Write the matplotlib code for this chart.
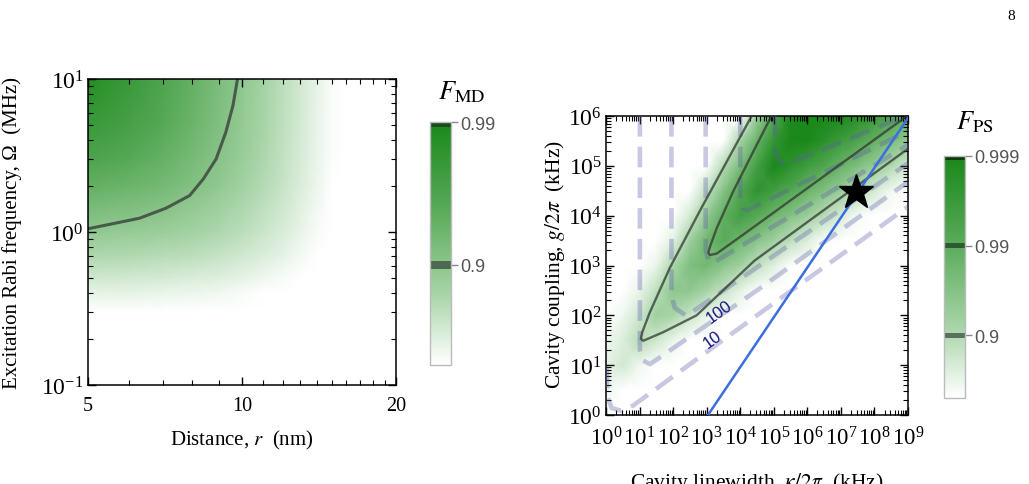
import numpy as np
import matplotlib
matplotlib.use("Agg")
import matplotlib.pyplot as plt
from matplotlib.colors import LinearSegmentedColormap, Normalize
from matplotlib.ticker import FixedLocator, FixedFormatter, LogLocator, NullFormatter

plt.rcParams['font.family'] = ['Liberation Serif', 'DejaVu Serif']
plt.rcParams['mathtext.fontset'] = 'stix'
SANS = ['Liberation Sans', 'DejaVu Sans']

# ---------------- data: left panel (F_MD), z = -log10(1 - F) ----------------
distance_nm = [5, 6, 7, 8, 9, 10, 11, 12, 13, 14, 15, 16, 20]
rabi_mhz = [0.1, 0.2, 0.3, 0.4, 0.5, 0.7, 1, 2, 3, 5, 10]
f_md_z = [
    [0.00, 0.00, 0.00, 0.00, 0.00, 0.00, 0.00, 0.00, 0.00, 0.00, 0.00, 0.00, 0.0],
    [0.05, 0.04, 0.04, 0.03, 0.02, 0.00, 0.00, 0.00, 0.00, 0.00, 0.00, 0.00, 0.0],
    [0.28, 0.27, 0.26, 0.25, 0.23, 0.21, 0.18, 0.14, 0.10, 0.06, 0.01, 0.00, 0.0],
    [0.44, 0.44, 0.42, 0.40, 0.38, 0.34, 0.30, 0.26, 0.21, 0.15, 0.09, 0.03, 0.0],
    [0.57, 0.56, 0.54, 0.51, 0.48, 0.44, 0.39, 0.34, 0.27, 0.21, 0.14, 0.07, 0.0],
    [0.76, 0.74, 0.71, 0.68, 0.63, 0.57, 0.51, 0.44, 0.36, 0.28, 0.20, 0.12, 0.0],
    [0.96, 0.93, 0.89, 0.83, 0.76, 0.69, 0.60, 0.52, 0.43, 0.34, 0.25, 0.16, 0.0],
    [1.31, 1.25, 1.17, 1.07, 0.96, 0.84, 0.73, 0.62, 0.51, 0.40, 0.30, 0.20, 0.0],
    [1.50, 1.41, 1.29, 1.16, 1.03, 0.90, 0.77, 0.65, 0.53, 0.42, 0.32, 0.22, 0.0],
    [1.70, 1.56, 1.41, 1.25, 1.09, 0.94, 0.80, 0.67, 0.55, 0.43, 0.33, 0.22, 0.0],
    [1.90, 1.70, 1.49, 1.30, 1.13, 0.97, 0.82, 0.69, 0.56, 0.44, 0.33, 0.23, 0.0],
]
md_contour_r = [5.0, 6.3, 7.1, 7.9, 8.4, 8.9, 9.3, 9.6, 9.8]
md_contour_rabi = [1.05, 1.23, 1.43, 1.73, 2.22, 3.0, 4.5, 6.7, 10.0]

# ---------------- data: right panel (F_PS), log10 of kHz values ----------------
log_kappa = [0, 0.5, 1, 1.5, 2, 2.5, 3, 3.5, 4, 4.5, 5, 5.5, 6, 6.5, 7, 7.5, 8, 8.5, 9]
log_g = [0, 0.5, 1, 1.5, 2, 2.5, 3, 3.5, 4, 4.5, 5, 5.5, 6]
f_ps_z = [
    [0.10, 0.00, 0.00, 0.00, 0.00, 0.00, 0.00, 0.00, 0.00, 0.00, 0.00, 0.00, 0.00, 0.00, 0.00, 0.00, 0.00, 0.00, 0.00],
    [0.45, 0.11, 0.00, 0.00, 0.00, 0.00, 0.00, 0.00, 0.00, 0.00, 0.00, 0.00, 0.00, 0.00, 0.00, 0.00, 0.00, 0.00, 0.00],
    [0.55, 0.72, 0.43, 0.15, 0.00, 0.00, 0.00, 0.00, 0.00, 0.00, 0.00, 0.00, 0.00, 0.00, 0.00, 0.00, 0.00, 0.00, 0.00],
    [0.45, 0.62, 0.96, 0.75, 0.47, 0.19, 0.00, 0.00, 0.00, 0.00, 0.00, 0.00, 0.00, 0.00, 0.00, 0.00, 0.00, 0.00, 0.00],
    [0.30, 0.45, 0.74, 1.21, 1.07, 0.79, 0.51, 0.22, 0.00, 0.00, 0.00, 0.00, 0.00, 0.00, 0.00, 0.00, 0.00, 0.00, 0.00],
    [0.05, 0.20, 0.50, 0.90, 1.39, 1.39, 1.11, 0.83, 0.54, 0.26, 0.00, 0.00, 0.00, 0.00, 0.00, 0.00, 0.00, 0.00, 0.00],
    [0.00, 0.00, 0.15, 0.50, 1.06, 1.58, 1.71, 1.43, 1.15, 0.86, 0.58, 0.30, 0.01, 0.00, 0.00, 0.00, 0.00, 0.00, 0.00],
    [0.00, 0.00, 0.00, 0.00, 0.55, 1.19, 1.74, 2.03, 1.75, 1.47, 1.18, 0.90, 0.62, 0.33, 0.05, 0.00, 0.00, 0.00, 0.00],
    [0.00, 0.00, 0.00, 0.00, 0.05, 0.70, 1.33, 1.93, 2.35, 2.07, 1.78, 1.50, 1.22, 0.94, 0.65, 0.37, 0.09, 0.00, 0.00],
    [0.00, 0.00, 0.00, 0.00, 0.00, 0.08, 0.85, 1.49, 2.13, 2.67, 2.39, 2.10, 1.82, 1.54, 1.26, 0.97, 0.69, 0.41, 0.12],
    [0.00, 0.00, 0.00, 0.00, 0.00, 0.00, 0.10, 0.96, 1.65, 2.35, 2.99, 2.71, 2.42, 2.14, 1.86, 1.57, 1.29, 1.01, 0.73],
    [0.00, 0.00, 0.00, 0.00, 0.00, 0.00, 0.00, 0.15, 1.11, 1.86, 2.62, 3.00, 3.00, 2.74, 2.46, 2.18, 1.89, 1.61, 1.33],
    [0.00, 0.00, 0.00, 0.00, 0.00, 0.00, 0.00, 0.00, 0.30, 1.27, 2.10, 2.93, 3.00, 3.00, 3.00, 2.78, 2.50, 2.21, 1.93],
]

# F_PS = 0.9 and 0.99 contours (log10 kappa, log10 g)
outer_logk = [4.34, 2.8, 1.9, 1.3, 1.08, 1.04, 1.11, 1.7, 2.7, 4.43, 8.85, 9.0]
outer_logg = [6.0, 4.1, 2.95, 2.05, 1.66, 1.53, 1.49, 1.66, 2.0, 3.1, 5.27, 5.34]
inner_logk = [4.93, 4.4, 3.8, 3.3, 3.1, 3.05, 3.1, 3.3, 3.8, 4.5, 8.85, 8.97]
inner_logg = [6.0, 5.3, 4.5, 3.75, 3.38, 3.26, 3.21, 3.24, 3.48, 3.82, 5.94, 6.0]

# dashed rate contours (labelled 10, 100 on the plot)
rate10_logk = [0.02, 0.05, 0.17, 0.42, 0.81, 4.5, 9.0]
rate10_logg = [0.95, 0.35, 0.14, 0.09, 0.19, 2.0, 4.18]
rate100_logk = [1.01, 1.01, 1.08, 1.31, 4.5, 9.0]
rate100_logg = [6.0, 1.3, 1.1, 1.02, 2.5, 4.68]
rate1e3_logk = [1.95, 1.95, 2.05, 2.4, 9.0]
rate1e3_logg = [6.0, 2.4, 2.15, 1.99, 5.05]
rate1e4_logk = [2.97, 2.97, 3.05, 3.19, 9.0]
rate1e4_logg = [6.0, 3.3, 3.12, 3.05, 5.42]
rate1e5_logk = [4.0, 4.0, 4.08, 4.19, 9.0]
rate1e5_logg = [6.0, 4.3, 4.15, 4.10, 5.70]
rate1e6_logk = [5.03, 5.05, 5.15, 5.38, 9.0]
rate1e6_logg = [6.0, 5.3, 5.1, 5.03, 6.02]

blue_logk = [3.04, 9.0]
blue_logg = [0.0, 5.96]
star_logk = 7.46
star_logg = 4.47

# ---------------- styling ----------------
cmap = LinearSegmentedColormap.from_list(
    "fid", [(0.0, "#ffffff"), (0.3, "#a5d3a5"), (0.65, "#57a957"), (1.0, "#1a881a")])
cmap.set_under("white")

W, H = 1029, 485


def px_axes(x0, y0, x1, y1):
    return fig.add_axes([x0 / W, (H - y1) / H, (x1 - x0) / W, (y1 - y0) / H])


def frame_ticks(ax):
    ax.tick_params(which="both", direction="in", top=True, right=True, colors="black")
    ax.tick_params(which="major", length=6, width=1.0)
    ax.tick_params(which="minor", length=3.5, width=0.8)
    for s in ax.spines.values():
        s.set_linewidth(1.1)


def add_colorbar(cax, vmax, ticks, labels, bands):
    norm = Normalize(0.3, vmax)
    sm = plt.cm.ScalarMappable(norm=norm, cmap=cmap)
    cb = fig.colorbar(sm, cax=cax, ticks=ticks)
    cb.set_ticklabels(labels)
    cb.outline.set_edgecolor("#bbbbbb")
    cb.outline.set_linewidth(1.0)
    cax.tick_params(direction="out", length=5, width=1, color="#888888",
                    labelcolor="#555555", labelsize=13, pad=2)
    for t in cax.get_yticklabels():
        t.set_family(SANS)
    for lo, hi, c in bands:
        cax.axhspan(lo, hi, color=c, lw=0)
    return norm


fig = plt.figure(figsize=(W / 100, H / 100), dpi=100)

# ---------------- left panel ----------------
ax1 = px_axes(88, 80, 396, 386)
ax1.set_xscale("log")
ax1.set_yscale("log")
R, OM = np.meshgrid(distance_nm, rabi_mhz)
norm1 = Normalize(0.3, 2.0)
ax1.pcolormesh(R, OM, np.array(f_md_z), shading="gouraud", cmap=cmap, norm=norm1)
ax1.plot(md_contour_r, md_contour_rabi, color="#4a5a4a", lw=2.2, solid_capstyle="round")
ax1.set_xlim(5, 20)
ax1.set_ylim(0.1, 10)
ax1.xaxis.set_major_locator(FixedLocator([5, 10, 20]))
ax1.xaxis.set_major_formatter(FixedFormatter(["5", "10", "20"]))
ax1.xaxis.set_minor_locator(FixedLocator([6, 7, 8, 9, 11, 12, 13, 14, 15, 16, 17, 18, 19]))
ax1.xaxis.set_minor_formatter(NullFormatter())
ax1.yaxis.set_major_locator(LogLocator(base=10, numticks=10))
ax1.yaxis.set_minor_locator(LogLocator(base=10, subs=np.arange(2, 10), numticks=10))
ax1.yaxis.set_minor_formatter(NullFormatter())
frame_ticks(ax1)
ax1.tick_params(axis="x", which="major", labelsize=14.5, pad=8)
ax1.tick_params(axis="y", which="major", labelsize=17, pad=3)
ax1.set_xlabel(r"Distance, $r$  (nm)", fontsize=15)
ax1.set_ylabel("Excitation Rabi frequency, Ω  (MHz)", fontsize=15)
ax1.xaxis.set_label_coords(0.5, -0.14)
ax1.yaxis.set_label_coords(-0.214, 0.5)

cax1 = px_axes(430, 123, 451, 366)
add_colorbar(cax1, 2.0, [1, 2], ["0.9", "0.99"],
             [(1.965, 2.0, "#1c4a1c"), (0.972, 1.028, "#4e6652")])
fig.text(462 / W, 1 - 92 / H, r"$F_{\rm MD}$", fontsize=19, ha="center", va="center")

# ---------------- right panel ----------------
ax2 = px_axes(606, 117, 908, 416)
ax2.set_xscale("log")
ax2.set_yscale("log")
K, G = np.meshgrid(10.0 ** np.array(log_kappa), 10.0 ** np.array(log_g))
norm2 = Normalize(0.3, 3.0)
ax2.pcolormesh(K, G, np.array(f_ps_z), shading="gouraud", cmap=cmap, norm=norm2)

dash_style = dict(color="#5a5aa8", alpha=0.33, lw=3.3, ls=(0, (4.5, 2.2)),
                  dash_capstyle="butt", zorder=3)
for lk, lg in [(rate10_logk, rate10_logg), (rate100_logk, rate100_logg),
               (rate1e3_logk, rate1e3_logg), (rate1e4_logk, rate1e4_logg),
               (rate1e5_logk, rate1e5_logg), (rate1e6_logk, rate1e6_logg)]:
    ax2.plot(10.0 ** np.array(lk), 10.0 ** np.array(lg), **dash_style)

for lk, lg in [(outer_logk, outer_logg), (inner_logk, inner_logg)]:
    ax2.plot(10.0 ** np.array(lk), 10.0 ** np.array(lg), color="#303830",
             alpha=0.75, lw=1.7, zorder=4)

ax2.plot(10.0 ** np.array(blue_logk), 10.0 ** np.array(blue_logg),
         color="#3c6ee0", lw=1.8, zorder=5)
ax2.plot(10.0 ** star_logk, 10.0 ** star_logg, marker="*", ms=26,
         color="black", zorder=6, clip_on=False)

ax2.text(10 ** 3.39, 10 ** 2.09, "100", rotation=36, color="#141480", fontsize=12,
         family=SANS, ha="center", va="center", zorder=5)
ax2.text(10 ** 3.19, 10 ** 1.53, "10", rotation=36, color="#141480", fontsize=12,
         family=SANS, ha="center", va="center", zorder=5)

ax2.set_xlim(1, 1e9)
ax2.set_ylim(1, 1e6)
for axis in (ax2.xaxis, ax2.yaxis):
    axis.set_major_locator(LogLocator(base=10, numticks=20))
    axis.set_minor_locator(LogLocator(base=10, subs=np.arange(2, 10), numticks=20))
    axis.set_minor_formatter(NullFormatter())
frame_ticks(ax2)
ax2.tick_params(axis="x", which="major", labelsize=16.5, pad=8)
ax2.tick_params(axis="y", which="major", labelsize=17, pad=3)
ax2.set_xlabel(r"Cavity linewidth, $\kappa/2\pi$  (kHz)", fontsize=15.5)
ax2.set_ylabel(r"Cavity coupling, $g/2\pi$  (kHz)", fontsize=15.5)
ax2.xaxis.set_label_coords(0.5, -0.184)
ax2.yaxis.set_label_coords(-0.129, 0.505)

cax2 = px_axes(944, 157, 965, 399)
add_colorbar(cax2, 3.0, [1, 2, 3], ["0.9", "0.99", "0.999"],
             [(2.955, 3.0, "#0c3c0c"), (1.972, 2.028, "#2d5a32"), (0.972, 1.028, "#5b6f5f")])
fig.text(975 / W, 1 - 122 / H, r"$F_{\rm PS}$", fontsize=19, ha="center", va="center")

fig.text(1011 / W, 1 - 17 / H, "8", fontsize=11, ha="center", va="center")

fig.savefig("out.png", dpi=100)
